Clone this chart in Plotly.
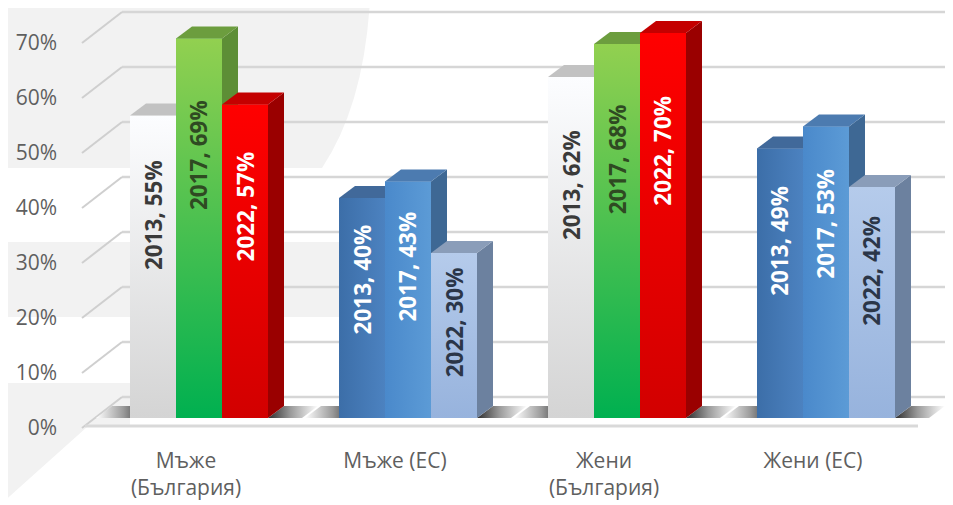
import plotly.graph_objects as go

# ---------------- data ----------------
categories = ["Мъже<br>(България)", "Мъже (ЕС)", "Жени<br>(България)", "Жени (ЕС)"]
years = ["2013", "2017", "2022"]
values_2013 = [55, 40, 62, 49]
values_2017 = [69, 43, 68, 53]
values_2022 = [57, 30, 70, 42]
y_ticks = [0, 10, 20, 30, 40, 50, 60, 70]
tick_labels = [f"{t}%" for t in y_ticks]
series = [values_2013, values_2017, values_2022]

# ---------------- geometry (style) ----------------
OFF = 8                      # page offset of the plot div (body margin)
PAGE_W, PAGE_H = 953, 505
W, H = PAGE_W - OFF, PAGE_H - OFF
PL, PR, PT, PB = 60, 953, OFF, 430      # plot area in page pixels
ML, MT = PL - OFF, PT - OFF
MR, MB = max(PAGE_W - PR, 0), PAGE_H - PB
PW, PH = PR - PL, PB - PT
PX_X = 209.0          # px per category unit
PX_Y = 5.5            # px per percentage point
ZERO_PX = 418         # page y of 0 %
CAT0_PX = 199         # page x of first category
X0 = -(CAT0_PX - PL) / PX_X
X1 = X0 + PW / PX_X
Y0 = -(PB - ZERO_PX) / PX_Y
Y1 = Y0 + PH / PX_Y


def px_x(px):
    return X0 + (px - PL) / PX_X


def px_yoff(dpx):
    return dpx / PX_Y


def pap_x(px):
    return (px - PL) / PW


def pap_y(py):
    return (PB - py) / PH


BW = 46 / PX_X
DX = 16 / PX_X
DY = 12 / PX_Y
SH = 34 / PX_X

STYLE = {
    ("bg", 0): dict(front=[[0, "#d4d4d4"], [1, "#fcfdff"]], gtype="vertical", side="#c4c4c4", top="#c2c2c2", txt="#3a3a3a", solid="#ececec"),
    ("bg", 1): dict(front=[[0, "#00b050"], [1, "#92d050"]], gtype="vertical", side="#5d8e36", top="#6c9d3e", txt="#2f4a22", solid="#4cc050"),
    ("bg", 2): dict(front=[[0, "#d20000"], [1, "#ff0000"]], gtype="vertical", side="#9a0000", top="#c40000", txt="#ffffff", solid="#ee0000"),
    ("eu", 0): dict(front=[[0, "#3c6ea8"], [1, "#4c82c0"]], gtype="horizontal", side="#3a6390", top="#41699a", txt="#ffffff", solid="#4679b6"),
    ("eu", 1): dict(front=[[0, "#4a89cb"], [1, "#5c9bd6"]], gtype="horizontal", side="#3e6894", top="#4c7bb0", txt="#ffffff", solid="#5393d1"),
    ("eu", 2): dict(front=[[0, "#97b3dd"], [1, "#b5cbeb"]], gtype="vertical", side="#6c819f", top="#8a9db9", txt="#2b3648", solid="#a7c0e5"),
}

kinds = ["eu" if "(ЕС)" in c else "bg" for c in categories]

fig = go.Figure()

for k, (yr, vals) in enumerate(zip(years, series)):
    fig.add_trace(go.Bar(
        x=list(range(len(categories))), y=vals, name=yr,
        width=BW, offset=(k - 1.5) * BW,
        marker=dict(color=[STYLE[(kinds[i], k)]["solid"] for i in range(len(categories))], line=dict(width=0)),
        showlegend=False, hovertemplate=yr + ": %{y}%<extra></extra>",
    ))


def poly(xs, ys, color=None, grad=None, gtype="vertical"):
    kw = dict(x=xs + [xs[0]], y=ys + [ys[0]], mode="lines", fill="toself",
              line=dict(width=0), hoverinfo="skip", showlegend=False)
    if grad is not None:
        kw["fillgradient"] = dict(type=gtype, colorscale=grad)
        kw["fillcolor"] = grad[-1][1]
    else:
        kw["fillcolor"] = color
    fig.add_trace(go.Scatter(**kw))


for i in range(len(categories)):
    xl = i - 1.5 * BW
    xr = i + 1.5 * BW
    poly([xl - SH, xl, xl + DX, xl - SH + DX], [0, 0, DY, DY],
         grad=[[0, "#ffffff"], [0.55, "#9a9a9a"], [1, "#2e2e2e"]], gtype="horizontal")
    poly([xr, xr + SH, xr + SH + DX, xr + DX], [0, 0, DY, DY],
         grad=[[0, "#2e2e2e"], [0.45, "#9a9a9a"], [1, "#ffffff"]], gtype="horizontal")
    for k, vals in enumerate(series):
        v = vals[i]
        st = STYLE[(kinds[i], k)]
        a = i + (k - 1.5) * BW
        b = a + BW
        poly([a, b, b, a], [0, 0, v, v], grad=st["front"], gtype=st["gtype"])
        poly([b, b + DX, b + DX, b], [0, DY, v + DY, v], color=st["side"])
        poly([a, b, b + DX, a + DX], [v, v, v + DY, v + DY], color=st["top"])

annotations = []
for i in range(len(categories)):
    for k, (yr, vals) in enumerate(zip(years, series)):
        v = vals[i]
        st = STYLE[(kinds[i], k)]
        annotations.append(dict(
            x=i + (k - 1) * BW, y=0.78 * v - 6, xref="x", yref="y",
            text=f"<b>{yr}, {v}%</b>", textangle=-90, showarrow=False,
            font=dict(family="Open Sans, Noto Sans, sans-serif", size=22.5, color=st["txt"]),
            xanchor="center", yanchor="middle"))

shapes = []
GRAY = "#f2f2f2"


def ppath(points):
    s = f"M {pap_x(points[0][0])},{pap_y(points[0][1])}"
    for p in points[1:]:
        s += f" L {pap_x(p[0])},{pap_y(p[1])}"
    return s + " Z"


shapes.append(dict(type="path", xref="paper", yref="paper", layer="below", line=dict(width=0), fillcolor=GRAY,
                   path=(f"M {pap_x(0)},{pap_y(0)} L {pap_x(370)},{pap_y(0)} "
                         f"Q {pap_x(364)},{pap_y(105)} {pap_x(322)},{pap_y(168)} "
                         f"L {pap_x(0)},{pap_y(168)} Z")))
shapes.append(dict(type="rect", xref="paper", yref="paper", layer="below", line=dict(width=0), fillcolor=GRAY,
                   x0=pap_x(0), x1=pap_x(340), y0=pap_y(317), y1=pap_y(242)))
shapes.append(dict(type="path", xref="paper", yref="paper", layer="below", line=dict(width=0), fillcolor=GRAY,
                   path=ppath([(0, 383), (130, 383), (130, 427), (87, 427), (0, 505)])))

for t in y_ticks:
    shapes.append(dict(type="line", xref="x", yref="y", layer="below",
                       x0=px_x(122), x1=X1, y0=t + px_yoff(21), y1=t + px_yoff(21),
                       line=dict(color="#d6d6d6", width=2.5)))
    shapes.append(dict(type="line", xref="x", yref="y", layer="below",
                       x0=px_x(82), x1=px_x(122), y0=t - px_yoff(10), y1=t + px_yoff(21),
                       line=dict(color="#cfcfcf", width=2)))
shapes.append(dict(type="line", xref="x", yref="y", layer="below",
                   x0=px_x(85), x1=px_x(918), y0=-px_yoff(8), y1=-px_yoff(8),
                   line=dict(color="#d9d9d9", width=3)))

fig.update_layout(
    width=W, height=H,
    margin=dict(l=ML, r=MR, t=MT, b=MB, pad=0, autoexpand=False),
    paper_bgcolor="#ffffff", plot_bgcolor="rgba(0,0,0,0)",
    barmode="overlay", showlegend=False,
    shapes=shapes, annotations=annotations,
    font=dict(family="Open Sans, Noto Sans, sans-serif", color="#595959"),
    xaxis=dict(range=[X0, X1], tickvals=list(range(len(categories))), ticktext=categories,
               showgrid=False, zeroline=False, showline=False, ticks="",
               tickfont=dict(size=21, color="#5f5f5f"), ticklabelshift=-13, ticklabelstandoff=16),
    yaxis=dict(range=[Y0, Y1], tickvals=y_ticks, ticktext=tick_labels,
               showgrid=False, zeroline=False, showline=False, ticks="",
               tickfont=dict(size=21, color="#5f5f5f"), ticklabelshift=10, ticklabelstandoff=2),
)

fig.write_html("out.html")
